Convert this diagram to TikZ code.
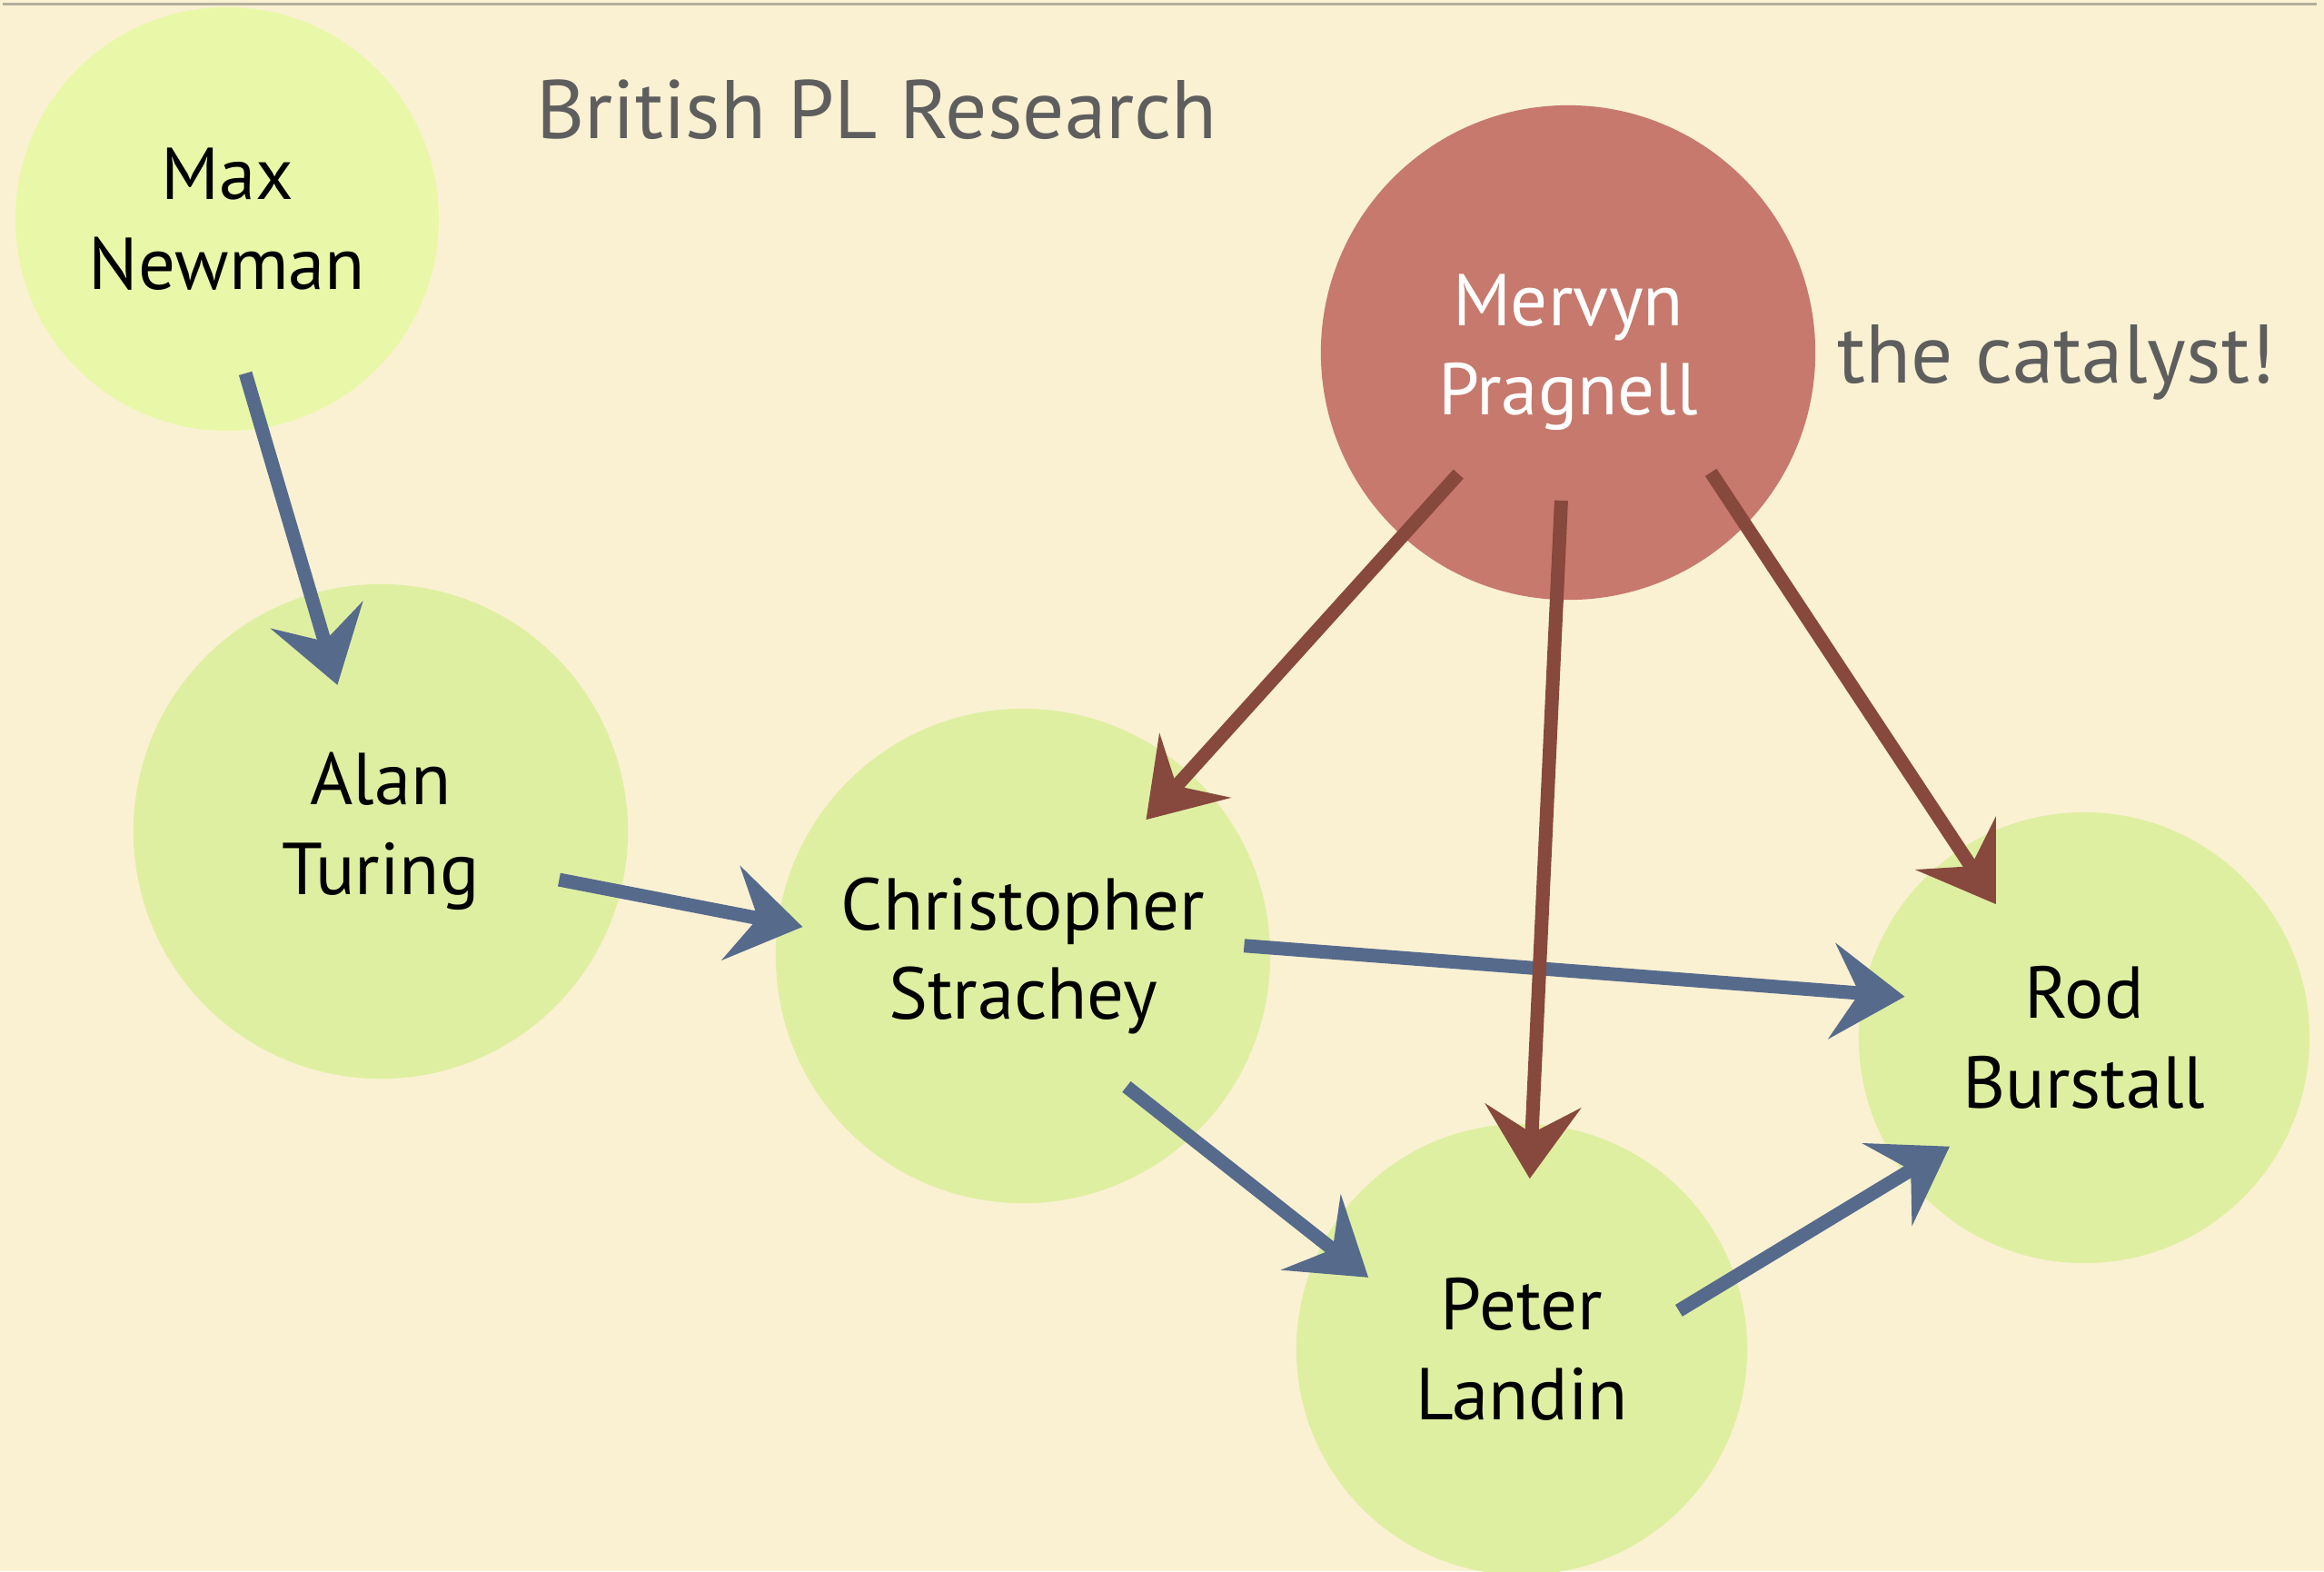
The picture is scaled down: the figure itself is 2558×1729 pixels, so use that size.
\documentclass[tikz,border=0pt]{standalone}
\usepackage{fontspec}
\setmainfont{PT Sans}
\usetikzlibrary{arrows.meta}

\definecolor{paper}{HTML}{FAF1D3}
\definecolor{leaf}{HTML}{DFEFA2}
\definecolor{leafbright}{HTML}{E8F8A8}
\definecolor{brick}{HTML}{C6796C}
\definecolor{slate}{HTML}{566A8C}
\definecolor{rust}{HTML}{87483D}
\definecolor{ink}{HTML}{5E5E5E}
\definecolor{rulegray}{HTML}{B4AE9C}

\begin{document}
\begin{tikzpicture}[x = 0.01cm, y = -0.01cm,
        person/.style = {circle, fill = leaf, minimum size = #1, inner sep = 0pt,
            align = center, font = \fontsize{23}{28}\selectfont},
        chalk/.style = {line width = 0.15cm,
            -{Stealth[length = 0.8cm, width = 1.05cm, inset = 0.3cm]}},
        bluechalk/.style = {chalk, color = slate},
        redchalk/.style = {chalk, color = rust},
        heading/.style = {anchor = base west, text = ink, font = \fontsize{26}{31}\selectfont}]
        \fill[paper] (0,0) rectangle (2558,1729);
        \useasboundingbox (0,0) rectangle (2558,1729);
        \draw[rulegray, line width = 0.03cm] (3,4) -- (2550,4);

        \node[heading] (title) at (578,152) {British PL Research};
        \node[heading] (catalyst) at (2010,421) {the catalyst!};

        \node[person = 4.66cm, fill = leafbright] (newman) at (250,241) {Max\\Newman};
        \node[person = 5.44cm] (turing) at (419,915) {Alan\\Turing};
        \node[person = 5.44cm] (strachey) at (1126,1052) {Christopher\\Strachey};
        \node[person = 5.44cm, fill = brick, text = white] (pragnell) at (1726,388) {Mervyn\\Pragnell};
        \node[person = 4.96cm] (burstall) at (2294,1142) {Rod\\Burstall};
        \node[person = 4.96cm] (landin) at (1675,1485) {Peter\\Landin};

        % blue: who taught whom
        \draw[bluechalk, shorten < = 1.77cm, shorten > = 1.68cm]
        ([xshift = -0.3cm]newman.center) -- (turing.center);
        \draw[bluechalk, shorten < = 2cm, shorten > = 2.47cm]
        ([yshift = -0.15cm]turing.center) -- ([yshift = -0.15cm]strachey.center);
        \draw[bluechalk, shorten < = 2.44cm, shorten > = 1.98cm]
        ([yshift = 0.3cm]strachey.center) -- ([yshift = 0.3cm]burstall.center);
        \draw[bluechalk, shorten < = 1.45cm, shorten > = 2.15cm]
        ([yshift = -0.54cm]strachey.center) -- ([yshift = -0.54cm]landin.center);
        \draw[bluechalk, shorten < = 2.02cm, shorten > = 1.73cm]
        ([yshift = -0.62cm]landin.center) -- ([yshift = -0.3cm]burstall.center);

        % red: the catalyst
        \draw[redchalk, shorten < = 1.8cm, shorten > = 2.02cm] (pragnell.center) -- (strachey.center);
        \draw[redchalk, shorten < = 1.63cm, shorten > = 1.88cm] (pragnell.center) -- (landin.center);
        \draw[redchalk, shorten < = 1.58cm, shorten > = 1.76cm]
        ([xshift = 0.7cm]pragnell.center) -- (burstall.center);
    \end{tikzpicture}
\end{document}
